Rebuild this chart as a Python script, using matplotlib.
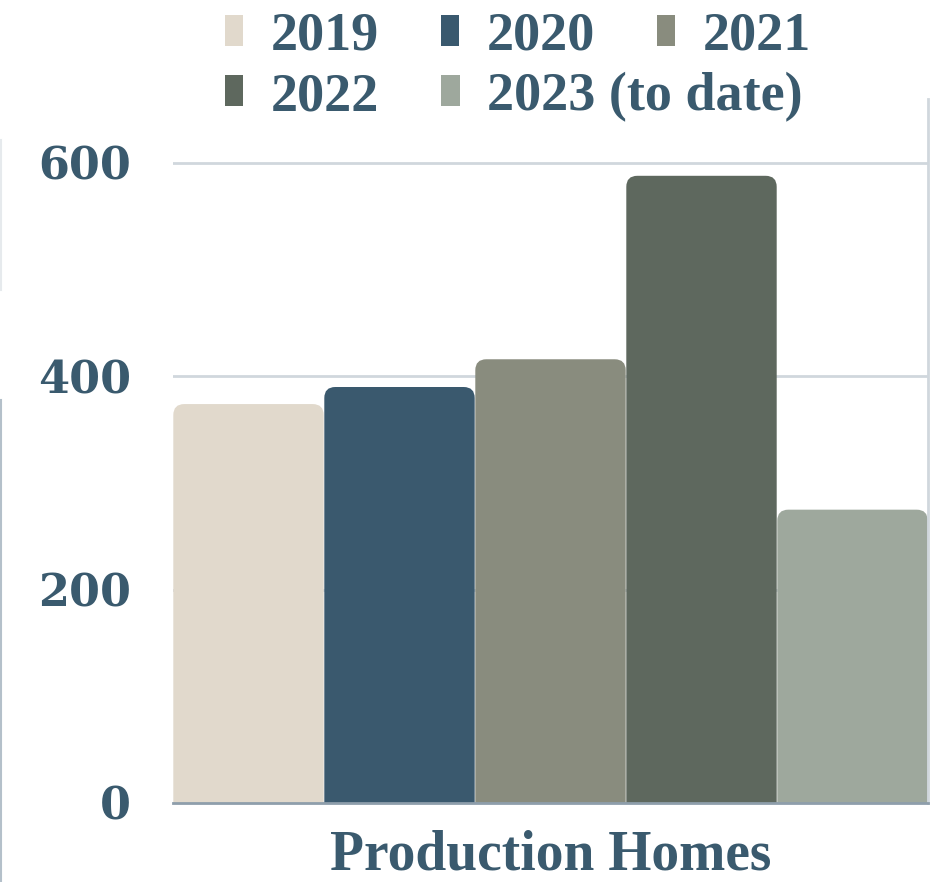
import matplotlib
matplotlib.use("Agg")
import matplotlib.pyplot as plt
import numpy as np
from matplotlib.patches import FancyBboxPatch, Patch
from matplotlib.lines import Line2D

# === Dati ===
years = ["2019", "2020", "2021", "2022", "2023 (to date)"]
values = [374, 390, 416, 588, 275]
colors = ["#e1d9cc", "#3a596e", "#898c7e", "#5e685e", "#9ea89d"]
category = "Production Homes"
yticks = [0, 200, 400, 600]

txt_color = "#3a5a6e"
W, H = 943, 882

fig = plt.figure(figsize=(W / 100, H / 100), dpi=100)
ax_left, ax_right = 173 / W, 928 / W
ax_bottom, ax_top = 1 - 803 / H, 1 - 99 / H
ax = fig.add_axes([ax_left, ax_bottom, ax_right - ax_left, ax_top - ax_bottom])

x = np.arange(len(values))
ax.set_xlim(-0.5, len(values) - 0.5)
ax.set_ylim(0, 660)

# === Barre con angoli arrotondati ===
bars = ax.bar(x, values, width=1.0, color=colors, zorder=2)
px_x = (len(values)) / (928 - 173)          # data x per pixel
px_y = 660 / (803 - 99)                      # data y per pixel
r_px = 11
for b in bars:
    b.set_visible(False)
    bx, bw, bh = b.get_x(), b.get_width(), b.get_height()
    p = FancyBboxPatch((bx + 0.3 * px_x, -40), bw - 0.6 * px_x, bh + 40,
                       boxstyle=f"round,pad=0,rounding_size={r_px * px_x}",
                       mutation_aspect=px_y / px_x,
                       facecolor=b.get_facecolor(), edgecolor="none", zorder=2)
    ax.add_patch(p)

# === Assi e griglia ===
ax.set_yticks(yticks)
ax.set_yticklabels([str(v) for v in yticks], fontfamily="DejaVu Serif",
                   fontweight="bold", fontsize=32, color=txt_color)
ax.tick_params(axis="y", length=0, pad=30)
ax.set_xticks([])
ax.grid(axis="y", color="#d0d7dd", linewidth=2, zorder=0)
ax.set_axisbelow(True)
for s in ["top", "left"]:
    ax.spines[s].set_visible(False)
ax.spines["right"].set_color("#d0d7dd")
ax.spines["right"].set_linewidth(2)
ax.spines["bottom"].set_color("#8e9eab")
ax.spines["bottom"].set_linewidth(2)
ax.spines["bottom"].set_zorder(3)

fig.text((ax_left + ax_right) / 2, 1 - 855 / H, category, ha="center", va="center",
         fontfamily="Liberation Serif", fontweight="bold", fontsize=40, color=txt_color)

# === Legenda (due righe) ===
handles = [Patch(facecolor=c, edgecolor="none") for c in colors]
leg_kw = dict(frameon=False, loc="upper left", borderpad=0, borderaxespad=0,
              handlelength=0.34, handleheight=0.5, handletextpad=0.5,
              columnspacing=1.15,
              prop={"family": "Liberation Serif", "weight": "bold", "size": 39})
leg1 = fig.legend(handles[:3], years[:3], ncol=3,
                  bbox_to_anchor=(225 / W, 1 - 12 / H), **leg_kw)
leg2 = fig.legend(handles[3:], years[3:], ncol=2,
                  bbox_to_anchor=(225 / W, 1 - 72 / H), **leg_kw)
for leg in (leg1, leg2):
    for t in leg.get_texts():
        t.set_color(txt_color)

# bordo sinistro sbiadito
fig.add_artist(Line2D([1 / W, 1 / W], [1 - 140 / H, 1 - 290 / H], color="#e6eaed",
                      linewidth=1.5, transform=fig.transFigure))
fig.add_artist(Line2D([1 / W, 1 / W], [1 - 400 / H, 0], color="#b4c0ca",
                      linewidth=1.5, transform=fig.transFigure))

fig.savefig("out.png", dpi=100, facecolor="white")
